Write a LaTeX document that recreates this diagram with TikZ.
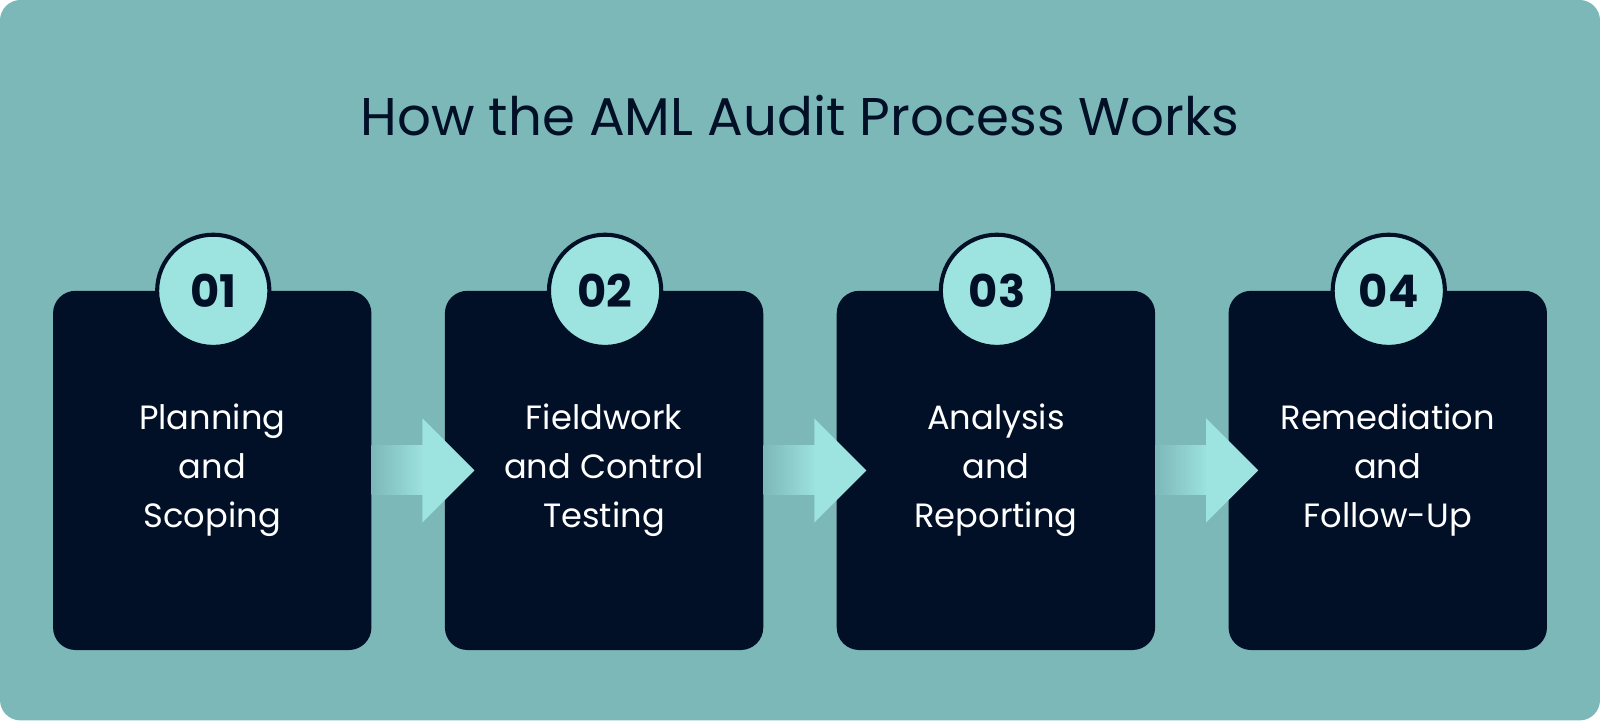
\documentclass[tikz,border=0pt]{standalone}
\usepackage{fontspec}
\setmainfont{Poppins}
\definecolor{bgc}{HTML}{7DB8B9}
\definecolor{dark}{HTML}{011027}
\definecolor{light}{HTML}{9DE3E0}
\tikzset{
 stepbox/.style={fill=dark,rounded corners=11pt},
 numc/.style={circle,fill=light,draw=dark,line width=2pt,minimum size=55pt,inner sep=0pt,font=\fontsize{22}{26}\selectfont\bfseries,text=dark},
 lbl/.style={align=center,text=white,font=\fontsize{16.5}{24}\selectfont}
}
\begin{document}
\begin{tikzpicture}[x=0.5pt,y=-0.5pt]
\useasboundingbox (0,0) rectangle (1568,706);
\fill[bgc,rounded corners=10pt] (0,0) rectangle (1568,706);
\node[text=dark,font=\fontsize{26}{30}\selectfont] (title) at (784,113) {How the AML Audit Process Works};
\foreach \i/\x/\t in {1/52/{Planning\\and\\Scoping},2/436/{Fieldwork\\and Control\\Testing},3/820/{Analysis\\and\\Reporting},4/1204/{Remediation\\and\\Follow-Up}}{
  \fill[stepbox] (\x,285) rectangle ++(312,352);
  \node[numc] (n\i) at (\x+157,285) {0\i};
  \node[lbl] (t\i) at (\x+156,461) {\t};
}
\foreach \x in {364,748,1132}{
  \shade[left color=light!0!bgc,right color=light] (\x,437) rectangle (\x+52,485);
  \fill[light] (\x+50,410) -- (\x+101,461) -- (\x+50,512) -- cycle;
}
\end{tikzpicture}
\end{document}
